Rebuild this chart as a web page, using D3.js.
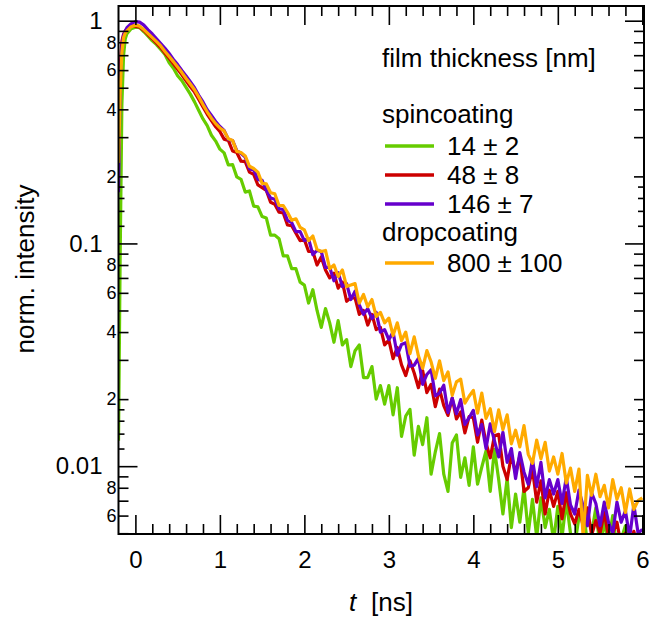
<!DOCTYPE html>
<html><head><meta charset="utf-8">
<script src="https://cdn.jsdelivr.net/npm/d3@7"></script>
<style>
body{margin:0;background:#fff}
svg{display:block}
text{font-family:"Liberation Sans",Arial,Helvetica,sans-serif;fill:#000}
</style>
</head><body>
<svg id="chart" width="652" height="621"></svg>
<script>
// ---- time base (ns): dense samples on the rise, then 0.05 ns steps ----
const riseTimes = [-0.2, -0.18, -0.16, -0.14, -0.12, -0.1, -0.05];
const decayTimes = d3.range(0, 121).map(k => +(k * 0.05).toFixed(2));
const times = riseTimes.concat(decayTimes);

// ---- series (normalized intensity) ----
const seriesLabels = ["14 ± 2", "48 ± 8", "146 ± 7", "800 ± 100"];
const seriesColors = ["#66cc00", "#cc0000", "#6600cc", "#ffaa00"];

const spin14 = [
  0.013, 0.09, 0.42, 0.70, 0.83, 0.875, 0.92,
  0.935, 0.93, 0.892, 0.853, 0.812, 0.781, 0.742, 0.705, 0.648, 0.612, 0.566, 0.538, 0.502, 0.468, 0.432, 0.395, 0.362, 0.338, 0.306, 0.288,
  0.265, 0.255, 0.225, 0.226, 0.199, 0.194, 0.17, 0.172, 0.147, 0.146, 0.132, 0.13, 0.109, 0.109, 0.105, 0.088, 0.088, 0.077, 0.077, 0.067,
  0.065, 0.054, 0.062, 0.050, 0.042, 0.051, 0.044, 0.036, 0.045, 0.035, 0.037, 0.028, 0.033, 0.035, 0.025, 0.025, 0.028, 0.020, 0.023, 0.019,
  0.023, 0.017, 0.0225, 0.0136, 0.0168, 0.018, 0.0112, 0.0151, 0.0125, 0.0165, 0.0092, 0.0116, 0.014, 0.0092, 0.0077, 0.0127, 0.0138, 0.0089, 0.0109, 0.0082,
  0.0122, 0.0083, 0.0099, 0.0117, 0.0077, 0.0119, 0.0087, 0.0061, 0.0088, 0.0053, 0.0075, 0.0056, 0.008, 0.005, 0.0071, 0.0048, 0.0072, 0.0053, 0.0064, 0.0046,
  0.0066, 0.0048, 0.007, 0.005, 0.0044, 0.0059, 0.0065, 0.0045, 0.005, 0.0065, 0.0042, 0.0056, 0.0046, 0.006, 0.0043, 0.0047, 0.0054, 0.0041, 0.0043, 0.0049, 0.0042
];
const spin48 = [
  0.31, 0.62, 0.81, 0.87, 0.9, 0.92, 0.95,
  0.945, 0.935, 0.905, 0.865, 0.83, 0.792, 0.757, 0.715, 0.678, 0.64, 0.605, 0.572, 0.537, 0.505, 0.478, 0.443, 0.41, 0.38, 0.356, 0.334,
  0.318, 0.294, 0.29, 0.26, 0.256, 0.234, 0.233, 0.209, 0.204, 0.183, 0.178, 0.173, 0.153, 0.15, 0.138, 0.137, 0.121, 0.12, 0.111, 0.103,
  0.104, 0.092, 0.092, 0.08, 0.087, 0.076, 0.07, 0.0735, 0.063, 0.067, 0.055, 0.057, 0.057, 0.048, 0.05, 0.043, 0.048, 0.041, 0.042, 0.035,
  0.0368, 0.0304, 0.0341, 0.0285, 0.0255, 0.0297, 0.0262, 0.0225, 0.0269, 0.0214, 0.0233, 0.0185, 0.0222, 0.0187, 0.0169, 0.0202, 0.0163, 0.0175, 0.0141, 0.0167,
  0.0165, 0.0128, 0.0161, 0.0127, 0.0109, 0.0137, 0.0139, 0.01, 0.0087, 0.0112, 0.0093, 0.0111, 0.0077, 0.008, 0.0097, 0.0069, 0.0086, 0.0061, 0.0078, 0.0066,
  0.0077, 0.0058, 0.0076, 0.0061, 0.0055, 0.0064, 0.0054, 0.0065, 0.0049, 0.0057, 0.005, 0.0062, 0.0048, 0.005, 0.0056, 0.0044, 0.005, 0.0044, 0.0051, 0.0042, 0.0046
];
const spin146 = [
  0.17, 0.52, 0.76, 0.86, 0.9, 0.93, 0.97,
  0.99, 0.985, 0.955, 0.91, 0.872, 0.83, 0.79, 0.752, 0.712, 0.67, 0.635, 0.598, 0.565, 0.532, 0.5, 0.462, 0.432, 0.398, 0.375, 0.353,
  0.335, 0.322, 0.293, 0.29, 0.261, 0.254, 0.244, 0.216, 0.214, 0.194, 0.192, 0.173, 0.16, 0.158, 0.143, 0.142, 0.127, 0.124, 0.113, 0.113,
  0.103, 0.105, 0.089, 0.093, 0.092, 0.078, 0.078, 0.068, 0.074, 0.064, 0.066, 0.056, 0.061, 0.053, 0.048, 0.051, 0.046, 0.049, 0.04, 0.041,
  0.037, 0.04, 0.0315, 0.0352, 0.0358, 0.0281, 0.0284, 0.0305, 0.0233, 0.0258, 0.0271, 0.0207, 0.0213, 0.0231, 0.0174, 0.0202, 0.0172, 0.0199, 0.0154, 0.0165,
  0.0178, 0.0138, 0.0154, 0.012, 0.0155, 0.013, 0.011, 0.0142, 0.0104, 0.012, 0.0088, 0.0115, 0.0094, 0.0083, 0.0107, 0.0081, 0.0104, 0.0072, 0.0087, 0.0075,
  0.0087, 0.0068, 0.0089, 0.0067, 0.0061, 0.0078, 0.0066, 0.0054, 0.0076, 0.0068, 0.0054, 0.0069, 0.0056, 0.005, 0.0069, 0.0056, 0.0063, 0.0048, 0.0067, 0.005, 0.0052
];
const drop800 = [
  0.23, 0.48, 0.72, 0.84, 0.88, 0.9, 0.94,
  0.955, 0.945, 0.912, 0.875, 0.84, 0.805, 0.77, 0.728, 0.69, 0.655, 0.62, 0.585, 0.55, 0.52, 0.49, 0.455, 0.42, 0.39, 0.365, 0.345,
  0.33, 0.32, 0.295, 0.29, 0.259, 0.256, 0.247, 0.222, 0.217, 0.209, 0.186, 0.185, 0.169, 0.167, 0.148, 0.148, 0.138, 0.127, 0.129, 0.118,
  0.115, 0.103, 0.108, 0.094, 0.092, 0.093, 0.077, 0.08, 0.071, 0.076, 0.064, 0.065, 0.066, 0.054, 0.059, 0.052, 0.056, 0.047, 0.049, 0.044,
  0.0462, 0.0386, 0.044, 0.0366, 0.04, 0.032, 0.0381, 0.0313, 0.0275, 0.033, 0.0294, 0.0248, 0.0297, 0.0242, 0.0265, 0.0208, 0.0239, 0.0246, 0.0192, 0.0206,
  0.0219, 0.0173, 0.0213, 0.0164, 0.0181, 0.0143, 0.0179, 0.0146, 0.017, 0.0126, 0.0145, 0.0122, 0.0152, 0.0113, 0.0103, 0.0131, 0.0108, 0.0128, 0.0095, 0.011,
  0.0092, 0.0114, 0.0084, 0.0098, 0.0077, 0.0097, 0.0048, 0.0091, 0.0074, 0.0092, 0.0073, 0.0082, 0.0065, 0.0087, 0.0071, 0.008, 0.0062, 0.0079, 0.0064, 0.007, 0.0072
];
const seriesValues = [spin14, spin48, spin146, drop800];

// ---- axis ticks ----
const xMajorTicks = [0, 1, 2, 3, 4, 5, 6];
const xMinorTicks = [0.2,0.4,0.6,0.8,1.2,1.4,1.6,1.8,2.2,2.4,2.6,2.8,3.2,3.4,3.6,3.8,4.2,4.4,4.6,4.8,5.2,5.4,5.6,5.8];
const yMajorTicks = [1, 0.1, 0.01];
const yMajorLabels = ["1", "0.1", "0.01"];
const yLabeledMinor = [0.8,0.6,0.4,0.2, 0.08,0.06,0.04,0.02, 0.008,0.006];
const yLabeledMinorText = ["8","6","4","2","8","6","4","2","8","6"];
const yPlainMinor = [0.9,0.7,0.5,0.3, 0.09,0.07,0.05,0.03, 0.009,0.007,0.005];
const ySubMinor = [0.18,0.16,0.14,0.12, 0.018,0.016,0.014,0.012];

// ---- layout ----
const L = 118.5, R = 644, T = 6, B = 534;
const svg = d3.select("#chart");
const x = d3.scaleLinear().domain([-0.2, 6.02]).range([L, R]);
const y = d3.scaleLog().domain([0.00496, 1.164]).range([B, T]);

svg.append("defs").append("clipPath").attr("id", "plotclip")
  .append("rect").attr("x", L).attr("y", T).attr("width", R - L).attr("height", B - T);

// data lines
const line = d3.line().x(d => x(d[0])).y(d => y(d[1]));
const gData = svg.append("g").attr("clip-path", "url(#plotclip)");
seriesValues.forEach((vals, i) => {
  const n = Math.min(vals.length, times.length);
  const pts = d3.range(n).map(k => [times[k], vals[k]]);
  gData.append("path").datum(pts)
    .attr("d", line)
    .attr("fill", "none")
    .attr("stroke", seriesColors[i])
    .attr("stroke-width", 3.2)
    .attr("stroke-linejoin", "round");
});

function styleAxis(g, fontSize) {
  g.select(".domain").remove();
  g.selectAll(".tick line").attr("stroke", "#000").attr("stroke-width", 1.6);
  g.selectAll(".tick text").attr("font-size", fontSize).attr("font-family", '"Liberation Sans",Arial,sans-serif').attr("fill", "#000");
}

// left axis
svg.append("g").attr("transform", `translate(${L},0)`)
  .call(d3.axisLeft(y).tickValues(yMajorTicks).tickSize(-19).tickPadding(16)
    .tickFormat((d, i) => yMajorLabels[i]))
  .call(g => styleAxis(g, 24));
svg.append("g").attr("transform", `translate(${L},0)`)
  .call(d3.axisLeft(y).tickValues(yLabeledMinor).tickSize(-10).tickPadding(2)
    .tickFormat((d, i) => yLabeledMinorText[i]))
  .call(g => styleAxis(g, 18));
svg.append("g").attr("transform", `translate(${L},0)`)
  .call(d3.axisLeft(y).tickValues(yPlainMinor).tickSize(-10).tickFormat(""))
  .call(g => styleAxis(g, 18));
svg.append("g").attr("transform", `translate(${L},0)`)
  .call(d3.axisLeft(y).tickValues(ySubMinor).tickSize(-6).tickFormat(""))
  .call(g => styleAxis(g, 18));

// right axis (mirror)
svg.append("g").attr("transform", `translate(${R},0)`)
  .call(d3.axisRight(y).tickValues(yMajorTicks).tickSize(-19).tickFormat(""))
  .call(g => styleAxis(g, 18));
svg.append("g").attr("transform", `translate(${R},0)`)
  .call(d3.axisRight(y).tickValues(yLabeledMinor.concat(yPlainMinor)).tickSize(-10).tickFormat(""))
  .call(g => styleAxis(g, 18));
svg.append("g").attr("transform", `translate(${R},0)`)
  .call(d3.axisRight(y).tickValues(ySubMinor).tickSize(-6).tickFormat(""))
  .call(g => styleAxis(g, 18));

// bottom axis
svg.append("g").attr("transform", `translate(0,${B})`)
  .call(d3.axisBottom(x).tickValues(xMajorTicks).tickSize(-19).tickPadding(17).tickFormat(d3.format("d")))
  .call(g => styleAxis(g, 24));
svg.append("g").attr("transform", `translate(0,${B})`)
  .call(d3.axisBottom(x).tickValues(xMinorTicks).tickSize(-10).tickFormat(""))
  .call(g => styleAxis(g, 24));
// top axis (mirror)
svg.append("g").attr("transform", `translate(0,${T})`)
  .call(d3.axisTop(x).tickValues(xMajorTicks).tickSize(-19).tickFormat(""))
  .call(g => styleAxis(g, 24));
svg.append("g").attr("transform", `translate(0,${T})`)
  .call(d3.axisTop(x).tickValues(xMinorTicks).tickSize(-10).tickFormat(""))
  .call(g => styleAxis(g, 24));

// frame
svg.append("rect").attr("x", L).attr("y", T).attr("width", R - L).attr("height", B - T)
  .attr("fill", "none").attr("stroke", "#000").attr("stroke-width", 2);

// axis titles
svg.append("text")
  .attr("transform", "translate(33.5,269) rotate(-90)")
  .attr("text-anchor", "middle").attr("font-size", 26)
  .text("norm. intensity");
const xt = svg.append("text").attr("y", 611).attr("font-size", 26);
xt.append("tspan").attr("x", 349).attr("font-style", "italic").text("t");
xt.append("tspan").attr("x", 371).text("[ns]");

// legend
const legX = 382, legLineX1 = 385, legLineX2 = 434, legTextX = 447;
svg.append("text").attr("x", legX).attr("y", 67).attr("font-size", 26).text("film thickness [nm]");
svg.append("text").attr("x", legX).attr("y", 123).attr("font-size", 26).text("spincoating");
svg.append("text").attr("x", legX).attr("y", 241).attr("font-size", 26).text("dropcoating");
const legBase = [155, 184, 213, 272];
seriesLabels.forEach((lab, i) => {
  svg.append("line").attr("x1", legLineX1).attr("x2", legLineX2)
    .attr("y1", legBase[i] - 9).attr("y2", legBase[i] - 9)
    .attr("stroke", seriesColors[i]).attr("stroke-width", 3.3);
  svg.append("text").attr("x", legTextX).attr("y", legBase[i]).attr("font-size", 26).text(lab);
});
</script>
</body></html>
